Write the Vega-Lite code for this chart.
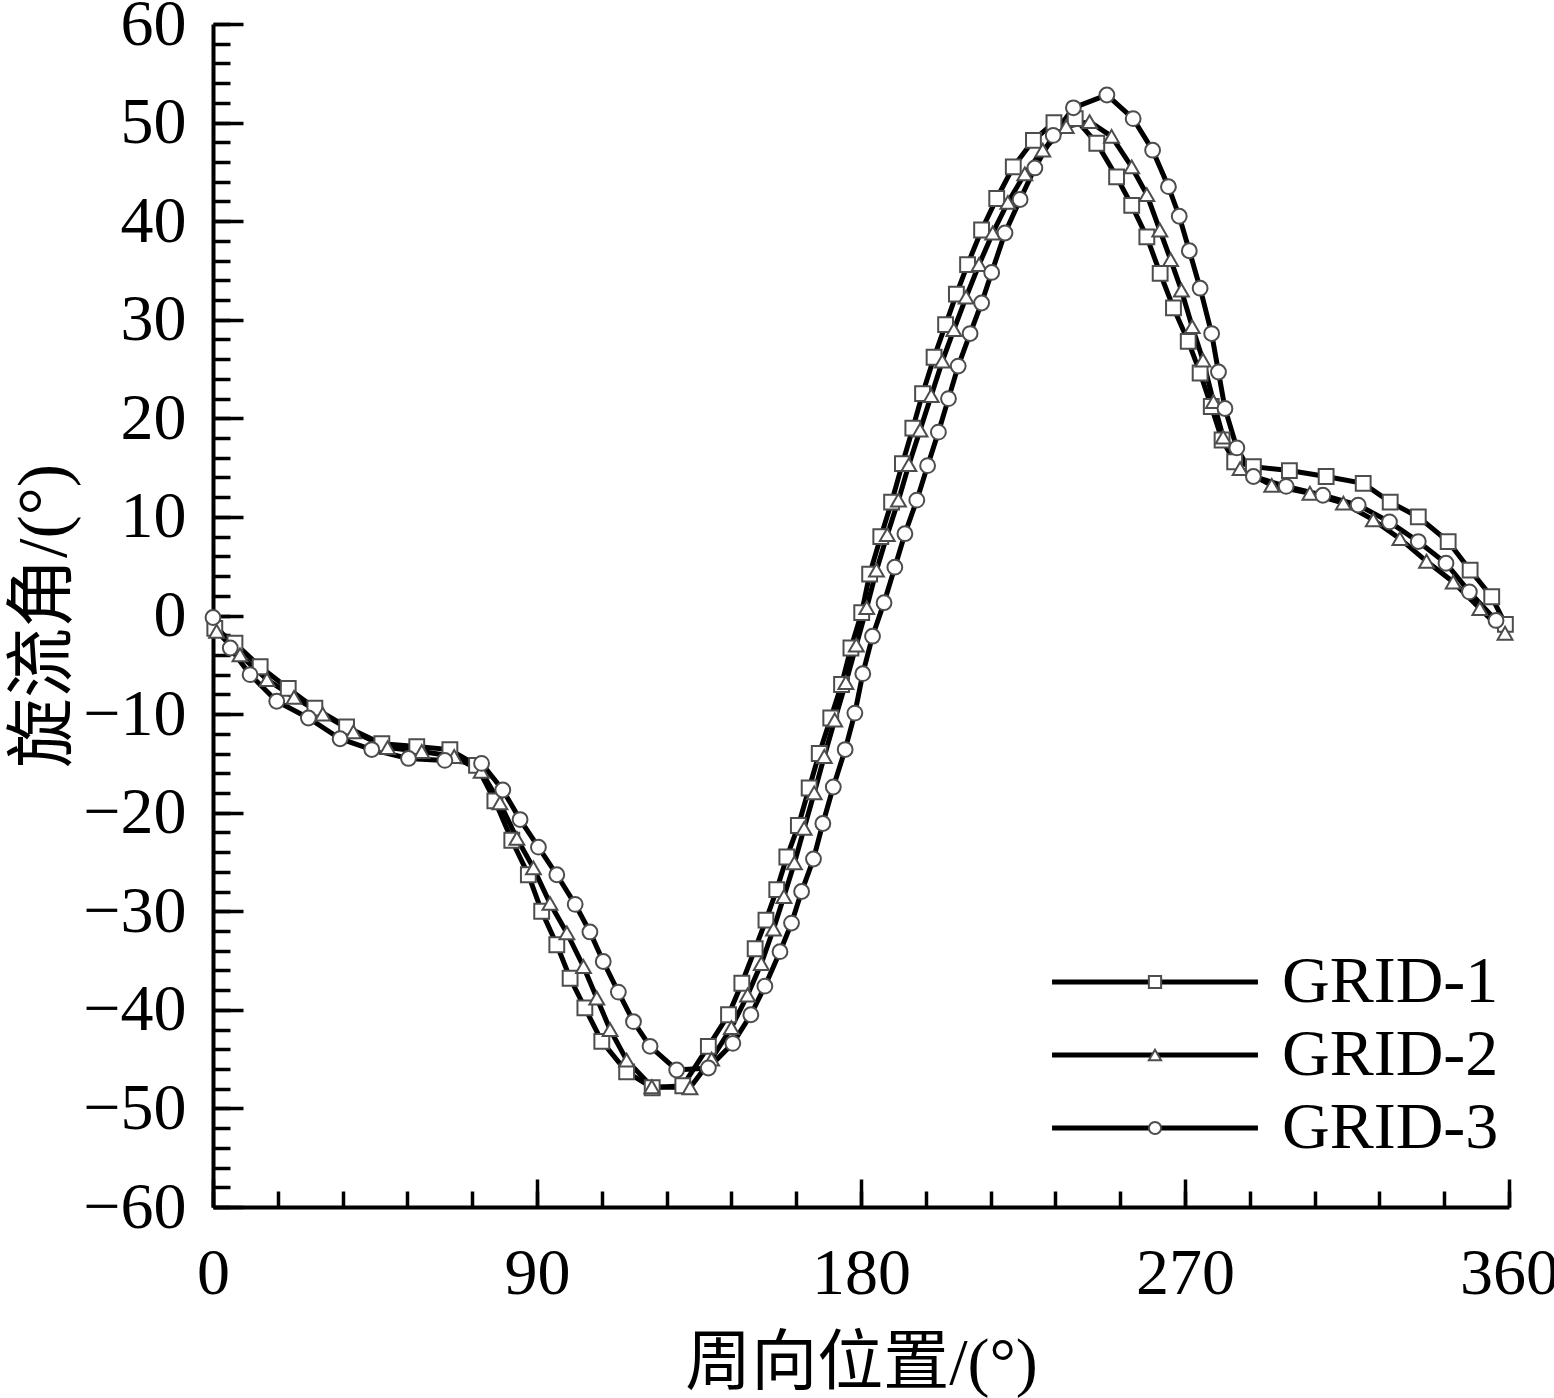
{
  "$schema": "https://vega.github.io/schema/vega-lite/v6.json",
  "width": 1296,
  "height": 1183,
  "autosize": {"type": "none"},
  "padding": {"left": 213, "top": 24, "right": 45, "bottom": 191},
  "background": "white",
  "config": {
    "view": {"stroke": null},
    "axis": {"grid": false, "domainColor": "black", "tickColor": "black", "labelColor": "black", "titleColor": "black", "labelFont": "Liberation Serif", "titleFont": "Liberation Serif, Noto Sans CJK SC", "labelFontWeight": "normal", "titleFontWeight": "normal"}
  },
  "datasets": {
    "curves": [
      {"series":"GRID-1","x":0.5,"y":-1.3},{"series":"GRID-1","x":6.1,"y":-2.8},{"series":"GRID-1","x":13.1,"y":-5.2},{"series":"GRID-1","x":20.9,"y":-7.4},{"series":"GRID-1","x":28.3,"y":-9.4},{"series":"GRID-1","x":37.1,"y":-11.3},{"series":"GRID-1","x":46.9,"y":-13.0},{"series":"GRID-1","x":56.6,"y":-13.3},{"series":"GRID-1","x":65.8,"y":-13.6},{"series":"GRID-1","x":73.2,"y":-15.2},{"series":"GRID-1","x":78.3,"y":-18.8},{"series":"GRID-1","x":83.0,"y":-22.8},{"series":"GRID-1","x":87.6,"y":-26.3},{"series":"GRID-1","x":91.3,"y":-30.0},{"series":"GRID-1","x":95.5,"y":-33.4},{"series":"GRID-1","x":99.2,"y":-36.8},{"series":"GRID-1","x":103.3,"y":-39.8},{"series":"GRID-1","x":108.0,"y":-43.2},{"series":"GRID-1","x":114.9,"y":-46.3},{"series":"GRID-1","x":122.0,"y":-47.9},{"series":"GRID-1","x":130.5,"y":-47.7},{"series":"GRID-1","x":137.6,"y":-43.7},{"series":"GRID-1","x":143.2,"y":-40.5},{"series":"GRID-1","x":146.9,"y":-37.3},{"series":"GRID-1","x":150.6,"y":-33.8},{"series":"GRID-1","x":153.6,"y":-30.9},{"series":"GRID-1","x":156.6,"y":-27.8},{"series":"GRID-1","x":159.4,"y":-24.5},{"series":"GRID-1","x":162.6,"y":-21.3},{"series":"GRID-1","x":165.6,"y":-17.5},{"series":"GRID-1","x":168.4,"y":-14.0},{"series":"GRID-1","x":171.6,"y":-10.4},{"series":"GRID-1","x":174.6,"y":-7.0},{"series":"GRID-1","x":177.2,"y":-3.3},{"series":"GRID-1","x":180.2,"y":0.3},{"series":"GRID-1","x":182.4,"y":4.2},{"series":"GRID-1","x":185.5,"y":8.0},{"series":"GRID-1","x":188.5,"y":11.5},{"series":"GRID-1","x":191.5,"y":15.4},{"series":"GRID-1","x":194.4,"y":19.0},{"series":"GRID-1","x":197.1,"y":22.5},{"series":"GRID-1","x":200.3,"y":26.2},{"series":"GRID-1","x":203.5,"y":29.5},{"series":"GRID-1","x":206.5,"y":32.6},{"series":"GRID-1","x":209.6,"y":35.6},{"series":"GRID-1","x":213.5,"y":39.1},{"series":"GRID-1","x":217.7,"y":42.3},{"series":"GRID-1","x":222.3,"y":45.5},{"series":"GRID-1","x":227.9,"y":48.2},{"series":"GRID-1","x":233.6,"y":50.0},{"series":"GRID-1","x":239.5,"y":50.4},{"series":"GRID-1","x":245.5,"y":47.9},{"series":"GRID-1","x":251.0,"y":44.5},{"series":"GRID-1","x":255.2,"y":41.6},{"series":"GRID-1","x":259.4,"y":38.4},{"series":"GRID-1","x":263.1,"y":34.7},{"series":"GRID-1","x":266.8,"y":31.2},{"series":"GRID-1","x":270.9,"y":27.8},{"series":"GRID-1","x":274.2,"y":24.6},{"series":"GRID-1","x":277.3,"y":21.2},{"series":"GRID-1","x":280.3,"y":17.8},{"series":"GRID-1","x":283.8,"y":15.6},{"series":"GRID-1","x":289.0,"y":15.1},{"series":"GRID-1","x":299.0,"y":14.7},{"series":"GRID-1","x":309.2,"y":14.1},{"series":"GRID-1","x":319.5,"y":13.4},{"series":"GRID-1","x":327.0,"y":11.5},{"series":"GRID-1","x":334.8,"y":10.0},{"series":"GRID-1","x":343.1,"y":7.5},{"series":"GRID-1","x":349.2,"y":4.6},{"series":"GRID-1","x":355.2,"y":1.9},{"series":"GRID-1","x":359.0,"y":-0.9},
      {"series":"GRID-2","x":1.0,"y":-1.6},{"series":"GRID-2","x":7.5,"y":-4.0},{"series":"GRID-2","x":15.0,"y":-6.5},{"series":"GRID-2","x":22.5,"y":-8.3},{"series":"GRID-2","x":30.5,"y":-10.0},{"series":"GRID-2","x":39.0,"y":-11.8},{"series":"GRID-2","x":48.5,"y":-13.4},{"series":"GRID-2","x":58.0,"y":-13.8},{"series":"GRID-2","x":67.0,"y":-14.3},{"series":"GRID-2","x":74.5,"y":-15.8},{"series":"GRID-2","x":79.7,"y":-19.0},{"series":"GRID-2","x":84.4,"y":-22.6},{"series":"GRID-2","x":89.0,"y":-25.6},{"series":"GRID-2","x":93.6,"y":-29.2},{"series":"GRID-2","x":98.3,"y":-32.2},{"series":"GRID-2","x":102.9,"y":-35.6},{"series":"GRID-2","x":106.6,"y":-38.8},{"series":"GRID-2","x":110.3,"y":-42.0},{"series":"GRID-2","x":114.9,"y":-45.1},{"series":"GRID-2","x":121.9,"y":-47.8},{"series":"GRID-2","x":132.5,"y":-47.9},{"series":"GRID-2","x":138.5,"y":-45.0},{"series":"GRID-2","x":144.0,"y":-41.8},{"series":"GRID-2","x":148.5,"y":-38.5},{"series":"GRID-2","x":152.3,"y":-35.3},{"series":"GRID-2","x":155.7,"y":-31.8},{"series":"GRID-2","x":158.6,"y":-28.5},{"series":"GRID-2","x":161.5,"y":-25.1},{"series":"GRID-2","x":164.2,"y":-21.6},{"series":"GRID-2","x":167.0,"y":-18.0},{"series":"GRID-2","x":169.8,"y":-14.3},{"series":"GRID-2","x":172.7,"y":-10.6},{"series":"GRID-2","x":175.8,"y":-6.8},{"series":"GRID-2","x":178.7,"y":-3.0},{"series":"GRID-2","x":181.6,"y":0.8},{"series":"GRID-2","x":184.3,"y":4.6},{"series":"GRID-2","x":187.3,"y":8.2},{"series":"GRID-2","x":190.4,"y":11.7},{"series":"GRID-2","x":193.3,"y":15.3},{"series":"GRID-2","x":196.4,"y":18.8},{"series":"GRID-2","x":199.5,"y":22.3},{"series":"GRID-2","x":202.6,"y":25.8},{"series":"GRID-2","x":205.8,"y":29.0},{"series":"GRID-2","x":209.2,"y":32.3},{"series":"GRID-2","x":212.8,"y":35.6},{"series":"GRID-2","x":216.6,"y":38.8},{"series":"GRID-2","x":220.8,"y":41.9},{"series":"GRID-2","x":225.5,"y":44.8},{"series":"GRID-2","x":230.5,"y":47.2},{"series":"GRID-2","x":237.0,"y":49.6},{"series":"GRID-2","x":243.5,"y":50.1},{"series":"GRID-2","x":249.6,"y":48.6},{"series":"GRID-2","x":255.2,"y":45.5},{"series":"GRID-2","x":259.4,"y":42.7},{"series":"GRID-2","x":263.0,"y":39.1},{"series":"GRID-2","x":266.0,"y":36.1},{"series":"GRID-2","x":269.0,"y":33.0},{"series":"GRID-2","x":272.0,"y":29.3},{"series":"GRID-2","x":275.0,"y":25.9},{"series":"GRID-2","x":277.9,"y":21.7},{"series":"GRID-2","x":280.6,"y":18.1},{"series":"GRID-2","x":285.3,"y":14.9},{"series":"GRID-2","x":294.1,"y":13.2},{"series":"GRID-2","x":304.7,"y":12.4},{"series":"GRID-2","x":314.0,"y":11.4},{"series":"GRID-2","x":322.3,"y":9.7},{"series":"GRID-2","x":329.7,"y":7.8},{"series":"GRID-2","x":337.1,"y":5.5},{"series":"GRID-2","x":344.5,"y":3.4},{"series":"GRID-2","x":351.9,"y":0.7},{"series":"GRID-2","x":358.9,"y":-1.8},
      {"series":"GRID-3","x":0.0,"y":-0.2},{"series":"GRID-3","x":4.8,"y":-3.3},{"series":"GRID-3","x":10.3,"y":-6.0},{"series":"GRID-3","x":17.7,"y":-8.7},{"series":"GRID-3","x":26.5,"y":-10.4},{"series":"GRID-3","x":35.3,"y":-12.5},{"series":"GRID-3","x":44.1,"y":-13.6},{"series":"GRID-3","x":54.3,"y":-14.5},{"series":"GRID-3","x":64.4,"y":-14.7},{"series":"GRID-3","x":74.6,"y":-15.0},{"series":"GRID-3","x":80.5,"y":-17.7},{"series":"GRID-3","x":85.3,"y":-20.7},{"series":"GRID-3","x":90.4,"y":-23.5},{"series":"GRID-3","x":95.5,"y":-26.3},{"series":"GRID-3","x":100.6,"y":-29.3},{"series":"GRID-3","x":104.7,"y":-32.1},{"series":"GRID-3","x":108.4,"y":-35.1},{"series":"GRID-3","x":112.6,"y":-38.2},{"series":"GRID-3","x":116.8,"y":-41.2},{"series":"GRID-3","x":121.4,"y":-43.7},{"series":"GRID-3","x":128.8,"y":-46.1},{"series":"GRID-3","x":137.6,"y":-45.9},{"series":"GRID-3","x":144.4,"y":-43.4},{"series":"GRID-3","x":149.4,"y":-40.5},{"series":"GRID-3","x":153.3,"y":-37.6},{"series":"GRID-3","x":157.5,"y":-34.1},{"series":"GRID-3","x":160.7,"y":-31.2},{"series":"GRID-3","x":163.5,"y":-28.0},{"series":"GRID-3","x":166.8,"y":-24.7},{"series":"GRID-3","x":169.4,"y":-21.1},{"series":"GRID-3","x":172.3,"y":-17.4},{"series":"GRID-3","x":175.6,"y":-13.6},{"series":"GRID-3","x":178.3,"y":-9.9},{"series":"GRID-3","x":180.5,"y":-5.9},{"series":"GRID-3","x":183.2,"y":-2.1},{"series":"GRID-3","x":186.4,"y":1.3},{"series":"GRID-3","x":189.4,"y":4.9},{"series":"GRID-3","x":192.2,"y":8.3},{"series":"GRID-3","x":195.5,"y":11.7},{"series":"GRID-3","x":198.5,"y":15.2},{"series":"GRID-3","x":201.5,"y":18.6},{"series":"GRID-3","x":204.3,"y":22.0},{"series":"GRID-3","x":207.0,"y":25.3},{"series":"GRID-3","x":210.3,"y":28.6},{"series":"GRID-3","x":213.5,"y":31.7},{"series":"GRID-3","x":216.3,"y":34.8},{"series":"GRID-3","x":220.0,"y":38.8},{"series":"GRID-3","x":224.2,"y":42.2},{"series":"GRID-3","x":228.3,"y":45.4},{"series":"GRID-3","x":233.4,"y":48.7},{"series":"GRID-3","x":239.0,"y":51.5},{"series":"GRID-3","x":248.3,"y":52.8},{"series":"GRID-3","x":255.6,"y":50.4},{"series":"GRID-3","x":261.0,"y":47.2},{"series":"GRID-3","x":265.4,"y":43.5},{"series":"GRID-3","x":268.4,"y":40.5},{"series":"GRID-3","x":271.2,"y":37.0},{"series":"GRID-3","x":274.2,"y":33.2},{"series":"GRID-3","x":277.4,"y":28.6},{"series":"GRID-3","x":279.3,"y":24.7},{"series":"GRID-3","x":281.1,"y":21.0},{"series":"GRID-3","x":284.4,"y":17.0},{"series":"GRID-3","x":289.0,"y":14.1},{"series":"GRID-3","x":298.1,"y":13.1},{"series":"GRID-3","x":308.3,"y":12.2},{"series":"GRID-3","x":318.1,"y":11.2},{"series":"GRID-3","x":326.8,"y":9.5},{"series":"GRID-3","x":334.8,"y":7.5},{"series":"GRID-3","x":342.5,"y":5.3},{"series":"GRID-3","x":349.0,"y":2.4},{"series":"GRID-3","x":356.4,"y":-0.5}
    ]
  },
  "data": {"name": "curves"},
  "layer": [
    {
      "mark": {"type": "line", "strokeWidth": 5, "clip": false},
      "encoding": {
        "x": {"field": "x", "type": "quantitative", "scale": {"domain": [0, 360], "nice": false, "zero": false},
          "axis": {"orient": "bottom", "values": [0, 90, 180, 270, 360], "tickSize": -28, "tickWidth": 3.5, "domainWidth": 4, "labelFontSize": 66, "labelPadding": 62, "labelFlush": false, "labelOverlap": false, "format": "d", "title": "周向位置/(°)", "titleFontSize": 66, "titleY": 176, "titleBaseline": "alphabetic"}},
        "y": {"field": "y", "type": "quantitative", "scale": {"domain": [-60, 60], "nice": false, "zero": false},
          "axis": {"orient": "left", "values": [-60, -50, -40, -30, -20, -10, 0, 10, 20, 30, 40, 50, 60], "tickSize": -30, "tickWidth": 3.5, "domainWidth": 4, "labelFontSize": 66, "labelPadding": 57, "labelFlush": false, "labelOverlap": false, "format": "d", "title": "旋流角/(°)", "titleFontSize": 70, "titleAngle": -90, "titleX": -148, "titleBaseline": "alphabetic"}},
        "color": {"field": "series", "type": "nominal",
          "scale": {"domain": ["GRID-1", "GRID-2", "GRID-3"], "range": ["black", "black", "black"]},
          "legend": {"title": null, "orient": "none", "legendX": 909, "legendY": 925, "symbolType": "M-20,0H20", "symbolSize": 106, "symbolStrokeWidth": 5, "symbolStrokeColor": "black", "symbolFillColor": "black", "labelFont": "Liberation Serif", "labelFontSize": 66, "labelColor": "black", "labelLimit": 600, "labelOffset": 94, "rowPadding": 7, "padding": 0, "symbolOffset": 0}}
      }
    },
    {
      "mark": {"type": "point", "filled": true, "fill": "white", "stroke": "#4d4d4d", "strokeWidth": 2, "size": 220, "opacity": 1, "clip": false},
      "encoding": {
        "x": {"field": "x", "type": "quantitative",
          "axis": {"orient": "bottom", "values": [0, 18, 36, 54, 72, 90, 108, 126, 144, 162, 180, 198, 216, 234, 252, 270, 288, 306, 324, 342, 360], "tickSize": -16, "tickWidth": 3.5, "domain": false, "labels": false, "title": null}},
        "y": {"field": "y", "type": "quantitative",
          "axis": {"orient": "left", "values": [-60, -58, -56, -54, -52, -50, -48, -46, -44, -42, -40, -38, -36, -34, -32, -30, -28, -26, -24, -22, -20, -18, -16, -14, -12, -10, -8, -6, -4, -2, 0, 2, 4, 6, 8, 10, 12, 14, 16, 18, 20, 22, 24, 26, 28, 30, 32, 34, 36, 38, 40, 42, 44, 46, 48, 50, 52, 54, 56, 58, 60], "tickSize": -17, "tickWidth": 3.5, "domain": false, "labels": false, "title": null}},
        "shape": {"field": "series", "type": "nominal",
          "scale": {"range": ["square", "triangle-up", "circle"]},
          "legend": {"title": null, "orient": "none", "legendX": 909, "legendY": 925, "symbolSize": 150, "symbolFillColor": "white", "symbolStrokeColor": "#4d4d4d", "symbolStrokeWidth": 2, "labelFont": "Liberation Serif", "labelFontSize": 66, "labelLimit": 600, "labelOffset": 94, "labelOpacity": 0, "rowPadding": 7, "padding": 0, "symbolOffset": 0,
            "encoding": {"symbols": {"stroke": {"value": "#4d4d4d"}, "strokeWidth": {"value": 2}, "fill": {"value": "white"}, "strokeOpacity": {"value": 1}, "opacity": {"value": 1}}}}}
      }
    }
  ],
  "resolve": {"axis": {"x": "independent", "y": "independent"}}
}
